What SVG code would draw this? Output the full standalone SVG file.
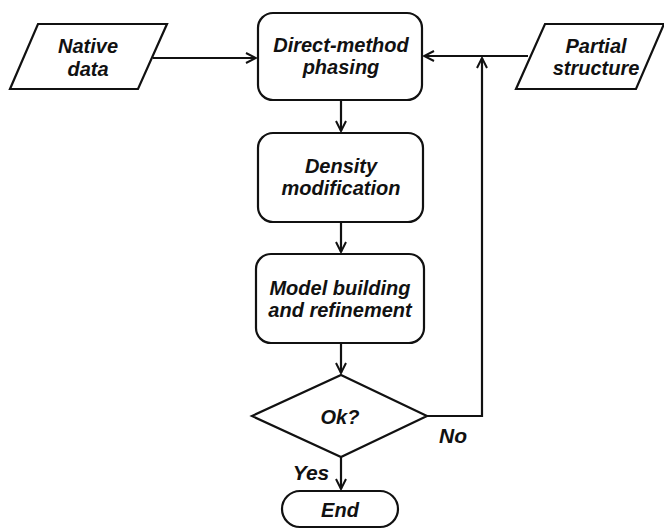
<svg xmlns="http://www.w3.org/2000/svg" width="664" height="530" viewBox="0 0 664 530">
<defs>
<marker id="ah" viewBox="0 0 12 12" refX="11" refY="6" markerWidth="12" markerHeight="12" markerUnits="userSpaceOnUse" orient="auto">
<path d="M1,1 L11,6 L1,11" fill="none" stroke="#111" stroke-width="2"/>
</marker>
</defs>
<style>
.s{fill:#fff;stroke:#111;stroke-width:2.2}
.t{font-family:"Liberation Sans",Arial,sans-serif;font-weight:bold;font-style:italic;font-size:20px;fill:#111;text-anchor:middle}
.l{font-size:21px}
.c{fill:none;stroke:#111;stroke-width:2.2}
</style>
<rect width="664" height="530" fill="#fff"/>
<g id="connectors">
<path class="c" d="M153,58 L256,58" marker-end="url(#ah)"/>
<path class="c" d="M528,56 L424,56" marker-end="url(#ah)"/>
<path class="c" d="M427,416 L482,416 L482,58" marker-end="url(#ah)"/>
<path class="c" d="M341,100 L341,131" marker-end="url(#ah)"/>
<path class="c" d="M341,222 L341,252" marker-end="url(#ah)"/>
<path class="c" d="M341,343 L341,373" marker-end="url(#ah)"/>
<path class="c" d="M341,457 L341,489" marker-end="url(#ah)"/>
<text class="t l" x="453" y="443">No</text>
<text class="t l" x="311" y="480">Yes</text>
</g>
<g id="native">
<polygon class="s" points="38,24 167,24 138,89 10,89"/>
<text class="t" x="88" y="53">Native</text>
<text class="t" x="88" y="76">data</text>
</g>
<g id="partial">
<polygon class="s" points="545,24 664,24 636,89 516,89"/>
<text class="t" x="596" y="53">Partial</text>
<text class="t" x="596" y="75">structure</text>
</g>
<g id="direct">
<rect class="s" x="258" y="13" width="164" height="87" rx="15"/>
<text class="t" x="341" y="52">Direct-method</text>
<text class="t" x="341" y="74">phasing</text>
</g>
<g id="density">
<rect class="s" x="258" y="133" width="165" height="89" rx="15"/>
<text class="t" x="341" y="173">Density</text>
<text class="t" x="341" y="195">modification</text>
</g>
<g id="model">
<rect class="s" x="256" y="254" width="168" height="89" rx="15"/>
<text class="t" x="340" y="295">Model building</text>
<text class="t" x="340" y="317">and refinement</text>
</g>
<g id="ok">
<polygon class="s" points="341,375 427,416 341,457 252,416"/>
<text class="t" x="340" y="424">Ok?</text>
</g>
<g id="end">
<rect class="s" x="282" y="491" width="116" height="36" rx="18"/>
<text class="t" x="340" y="517">End</text>
</g>
</svg>
